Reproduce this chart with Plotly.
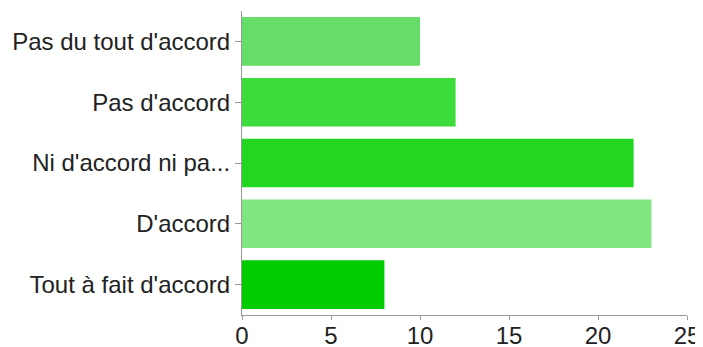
import plotly.graph_objects as go

categories = ["Pas du tout d'accord", "Pas d'accord", "Ni d'accord ni pa...", "D'accord", "Tout à fait d'accord"]
values = [10, 12, 22, 23, 8]
colors = ["#66dd66", "#3ddc3d", "#22d622", "#80e680", "#00cc00"]
x_ticks = [0, 5, 10, 15, 20, 25]

fig = go.Figure(go.Bar(
    x=values, y=categories, orientation="h",
    marker=dict(color=colors, line=dict(width=0)),
    hoverinfo="x+y",
))

# page body has an 8px default margin, so the figure is sized to fit the window
fig.update_layout(
    width=695, height=339,
    margin=dict(l=234, r=16, t=3, b=32, autoexpand=False),
    paper_bgcolor="white", plot_bgcolor="white",
    bargap=0.2,
    showlegend=False,
    font=dict(family="Liberation Sans, Arial, Helvetica, sans-serif", size=24, color="#222222"),
)
fig.update_xaxes(
    range=[0, 25], tickvals=x_ticks, showgrid=False, zeroline=False,
    showline=True, linecolor="#999999", linewidth=1, automargin=False,
    ticks="outside", ticklen=4, tickcolor="#999999", ticklabelstandoff=-5,
)
fig.update_yaxes(
    categoryorder="array", categoryarray=categories[::-1],
    range=[-0.5, 4.5], showgrid=False, zeroline=False,
    showline=True, linecolor="#999999", linewidth=1, automargin=False,
    ticks="outside", ticklen=6, tickcolor="#999999",
)

fig.write_html("out.html")
